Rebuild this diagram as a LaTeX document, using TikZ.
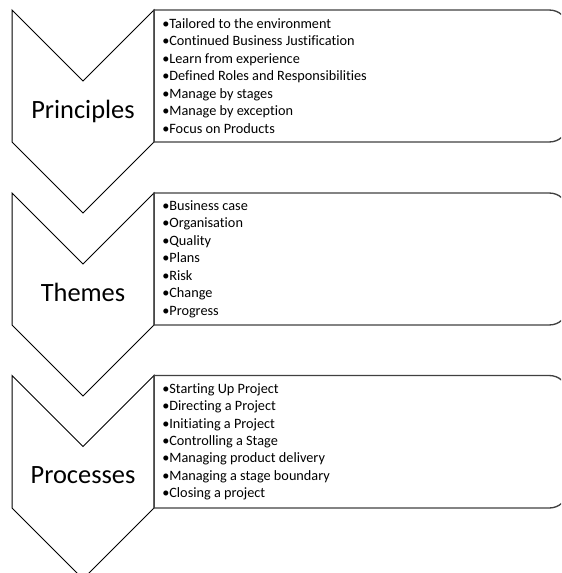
\documentclass[tikz,border=0pt]{standalone}
\usepackage{fontspec}
\setmainfont{Carlito}[Ligatures={NoCommon}]

\tikzset{
  chevron/.style={draw=black, line width=0.75pt, line join=miter},
  listbox/.style={draw={rgb, 255:red, 64; green, 64; blue, 64}, line width=1pt},
  stagelabel/.style={font=\fontsize{19.8}{23}\selectfont, anchor=base, inner sep=0pt},
  itemlist/.style={font=\fontsize{10.7}{13.1}\selectfont, align=left, anchor=west, inner sep=0pt},
}

\begin{document}
\begin{tikzpicture}[x=0.75pt,y=0.75pt,yscale=-1,xscale=1]
\useasboundingbox (0,0) rectangle (561,573);
\clip (0,0) rectangle (561,573);

%Shape: Chevron (Principles)
\draw [chevron] (12,10) -- (83,81) -- (154,10) -- (154,142) -- (83,213) -- (12,142) -- cycle ;
%Shape: Chevron (Themes)
\draw [chevron] (12,193) -- (83,264) -- (154,193) -- (154,325) -- (83,396) -- (12,325) -- cycle ;
%Shape: Chevron (Processes)
\draw [chevron] (12,375.5) -- (83,446.5) -- (154,375.5) -- (154,508) -- (83,579) -- (12,508) -- cycle ;

%Shape: Box (Principles)
\draw [listbox] (154,10) -- (549,10) .. controls (559,10) and (567,17) .. (567,27) -- (567,125) .. controls (567,135) and (559,142) .. (549,142) -- (154,142) -- cycle ;
%Shape: Box (Themes)
\draw [listbox] (154,193) -- (549,193) .. controls (559,193) and (567,200) .. (567,210) -- (567,308) .. controls (567,318) and (559,325) .. (549,325) -- (154,325) -- cycle ;
%Shape: Box (Processes)
\draw [listbox] (154,375.5) -- (549,375.5) .. controls (559,375.5) and (567,382.5) .. (567,392.5) -- (567,491) .. controls (567,501) and (559,508) .. (549,508) -- (154,508) -- cycle ;

% Text Node
\node [stagelabel] (principles) at (83,118.3) {Principles};
% Text Node
\node [stagelabel] (themes) at (83,301.3) {Themes};
% Text Node
\node [stagelabel] (processes) at (83,483.8) {Processes};

% Text Node
\node [itemlist] (principleslist) at (162,76) {•Tailored to the environment\\•Continued Business Justification\\•Learn from experience\\•Defined Roles and Responsibilities\\•Manage by stages\\•Manage by exception\\•Focus on Products};
% Text Node
\node [itemlist] (themeslist) at (162,259) {•Business case\\•Organisation\\•Quality\\•Plans\\•Risk\\•Change\\•Progress};
% Text Node
\node [itemlist] (processeslist) at (162,441.8) {•Starting Up Project\\•Directing a Project\\•Initiating a Project\\•Controlling a Stage\\•Managing product delivery\\•Managing a stage boundary\\•Closing a project};

\end{tikzpicture}
\end{document}
